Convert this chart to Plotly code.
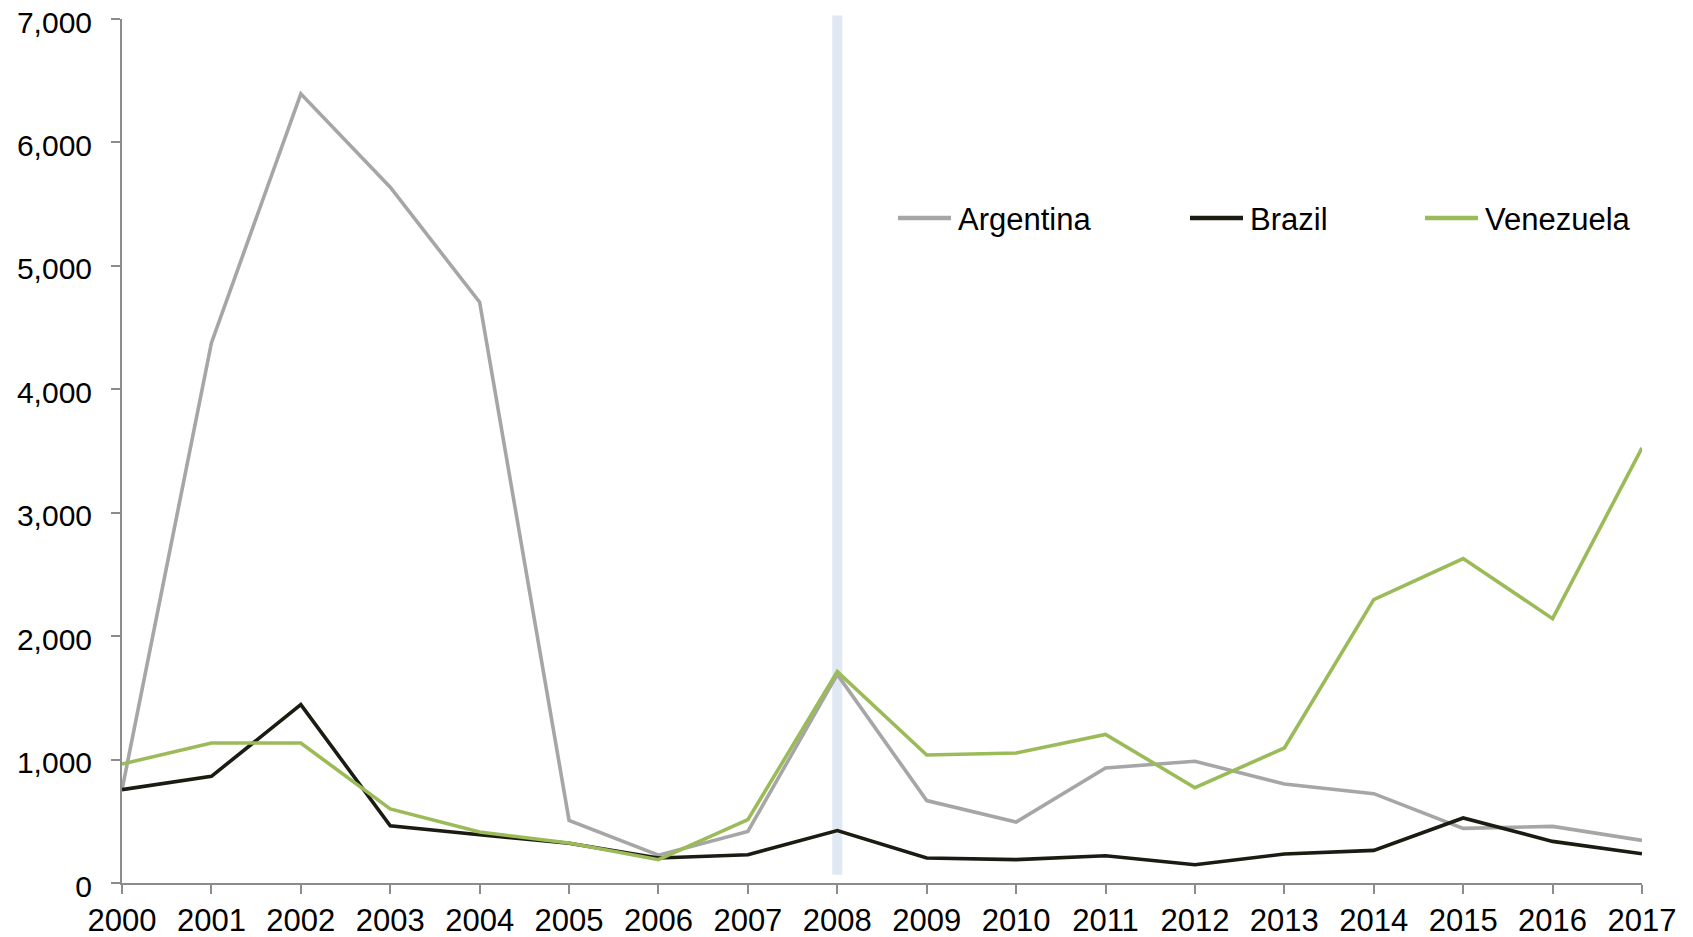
import plotly.graph_objects as go

years = list(range(2000, 2018))
argentina = [755, 4376, 6394, 5637, 4705, 507, 225, 418, 1690, 668, 494, 932, 986, 802, 724, 443, 459, 345]
brazil = [756, 864, 1445, 464, 391, 322, 203, 229, 425, 203, 189, 221, 148, 235, 264, 527, 337, 237]
venezuela = [964, 1134, 1134, 600, 413, 324, 189, 513, 1712, 1037, 1053, 1204, 772, 1094, 2296, 2628, 2142, 3525]

series_names = ["Argentina", "Brazil", "Venezuela"]
series_colors = ["#a6a6a6", "#1c1b12", "#9bbb59"]
highlight_year = 2008

y_ticks = [0, 1000, 2000, 3000, 4000, 5000, 6000, 7000]

# page body has an 8px margin; compensate so the plot lands where intended
OFF = 8
W, H = 1693 - OFF, 937 - OFF
ML, MR, MT, MB = 122 - OFF, 51, 19 - OFF, 54
plot_w = W - ML - MR
plot_h = H - MT - MB


def px_to_paper_x(px):
    return (px - OFF - ML) / plot_w


def py_to_paper_y(py):
    return 1 - (py - OFF - MT) / plot_h


fig = go.Figure()

for name, vals, col in zip(series_names, [argentina, brazil, venezuela], series_colors):
    fig.add_trace(go.Scatter(
        x=years, y=vals, mode="lines", name=name,
        line=dict(color=col, width=3.6),
        showlegend=False, hoverinfo="skip",
    ))

# highlight band behind lines
fig.add_shape(type="rect", xref="x", yref="paper",
              x0=highlight_year - 0.056, x1=highlight_year + 0.056,
              y0=0.0095, y1=1.004,
              fillcolor="#dfe8f3", line=dict(width=0), layer="below")

# legend (line sample + label), placed in page pixels
legend_line_start = [898, 1190, 1425]
legend_line_len = 53
legend_y = 218
for name, col, lx in zip(series_names, series_colors, legend_line_start):
    fig.add_shape(type="line", xref="paper", yref="paper",
                  x0=px_to_paper_x(lx), x1=px_to_paper_x(lx + legend_line_len),
                  y0=py_to_paper_y(legend_y), y1=py_to_paper_y(legend_y),
                  line=dict(color=col, width=4.5))
    fig.add_annotation(xref="paper", yref="paper",
                       x=px_to_paper_x(lx + legend_line_len + 5), y=py_to_paper_y(legend_y + 1),
                       xanchor="left", yanchor="middle", showarrow=False,
                       text=name, font=dict(size=31, color="#000000"))

fig.update_layout(
    width=W, height=H,
    margin=dict(l=ML, r=MR, t=MT, b=MB, pad=0, autoexpand=False),
    paper_bgcolor="white", plot_bgcolor="white",
    showlegend=False,
    font=dict(family="Liberation Sans, Arial, sans-serif", size=31, color="#000000"),
    xaxis=dict(
        range=[2000, 2017], tickmode="array", tickvals=years, ticktext=[str(y) for y in years],
        showgrid=False, zeroline=False, showline=True, linecolor="#8c8c8c", linewidth=2,
        ticks="outside", ticklen=9, tickwidth=2, tickcolor="#8c8c8c",
        tickfont=dict(size=31), fixedrange=True, automargin=False, ticklabeloverflow="allow",
    ),
    yaxis=dict(
        range=[0, 7000], tickmode="array", tickvals=y_ticks, tickformat=",d",
        showgrid=False, zeroline=False, showline=True, linecolor="#8c8c8c", linewidth=2,
        ticks="outside", ticklen=9, tickwidth=2, tickcolor="#8c8c8c",
        tickfont=dict(size=30), ticklabelstandoff=13, ticklabelshift=3,
        fixedrange=True, automargin=False, ticklabeloverflow="allow",
    ),
)

fig.write_html("out.html")
